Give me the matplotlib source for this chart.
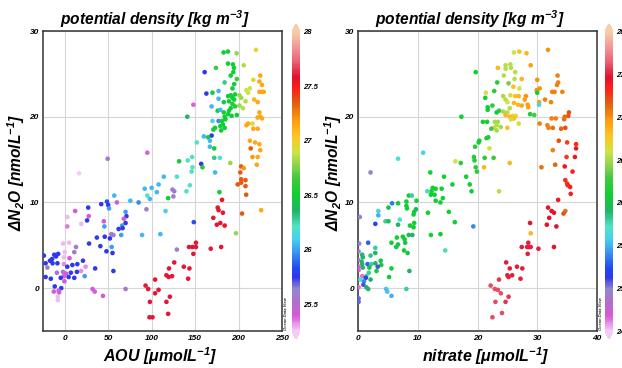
import numpy as np
import matplotlib
matplotlib.use("Agg")
import matplotlib.pyplot as plt
from matplotlib.colors import LinearSegmentedColormap, Normalize

plt.rcParams['font.family'] = ['Liberation Sans', 'DejaVu Sans']
plt.rcParams['mathtext.fontset'] = 'custom'
plt.rcParams['mathtext.rm'] = 'Liberation Sans:italic:bold'
plt.rcParams['mathtext.it'] = 'Liberation Sans:italic:bold'
plt.rcParams['mathtext.bf'] = 'Liberation Sans:italic:bold'

# ---------------- data: left panel (AOU) ----------------
aou = [182.8, 187.8, 197.8, 220, 174, 187.8, 193.5, 194.7, 194, 191, 206, 161, 198, 184, 195, 193, 177, 170, 163,
       225, 224, 227, 217, 213, 209, 211, 224, 227, 229, 188, 191, 193, 196, 201, 203, 177, 183, 189, 195, 193,
       208, 218, 222, 148, 169, 176, 179, 183, 189, 191, 196, 201, 205, 188, 184, 192, 198, 141, 170, 177, 181,
       185, 182, 179, 173, 184, 180, 171, 224, 225, 227, 222, 216, 209, 211, 217, 222, 169, 160, 165, 167, 152,
       167, 172, 213, 219, 224, 214, 225, 95, 146.6, 141.6, 131.6, 172, 178.5, 216, 222, 157, 190.5, 221, 147,
       158.5, 146, 173, 203, 206, 202, 203, 114, 129, 49.4, 16.5,
       124, 126, 125, 119, 144, 140, 178, 199, 203, 208, 208, 208.8, 181, 176, 177, 182, 171, 175, 179, 184,
       204, 226, 116, 148.5, 197, 110, 151, 147, 151, 143, 168, 180, 129, 148, 126, 120, 137, 143.5, 117,
       119.6, 123.5, 142, 104, 104, 108, 121, 117, 119, 97.5, 101, 93, 96, 98,
       92, 100, 108, 95, 98, 106, 57, 48.6, 50, 51, 42, 60, 75.5, 85, 27, 12, 27.6, 25.7, 3, 3, 19, 45, 45.6,
       70, 71, 94, 68, 70, 66, 62, 66.6, 53.6, 56, 52, 46, 37, 65, 89, 28, 41, 54, 48, 55, 13, 5, -2, 0, 11,
       -12, -7.5, -10, -14.5, -17, -24, -22, -14, -20, -8.4, -1, 3, 8.8, 14.5, 21, -1, 5.5, 35, 18.8, 24, 14,
       7, -2, -9, 1.5, -1, 4.5, 11, 23, 56, -22, -16, -4.6, -0.4, -11.5, -4, -7, -12.6, -6.5, -8, -8, 32,
       34.5, 44, 70]
dn2o_a = [27.5, 27.6, 27.4, 27.8, 25.7, 26.2, 26.1, 25.7, 25.2, 24.8, 26, 25.2, 24.4, 24, 23.8, 23.3, 23, 22.8,
          22.7, 24.8, 24.1, 23.7, 24.3, 23.3, 23.1, 22.8, 22.9, 22.9, 22.9, 22.4, 22.5, 22.2, 22.6, 22.5, 22.2,
          22.1, 21.7, 21.8, 22.0, 21.5, 21.8, 22, 21.7, 21.4, 21.2, 20.7, 20.8, 20.5, 20.7, 21.0, 21.2, 21.3,
          21.0, 20.3, 20.0, 20.1, 20.2, 20, 19.5, 19.5, 19.5, 19.7, 19.1, 18.9, 18.7, 18.7, 18.4, 18.5, 20.5,
          20.0, 19.8, 19.9, 19.2, 19.0, 19.2, 18.6, 18.6, 17.8, 17.7, 17.6, 17.2, 17.0, 16.5, 16.3, 17.2, 17.0,
          16.8, 16.3, 16.1, 15.8, 15.3, 14.9, 14.8, 15.2, 15.2, 15.3, 15.3, 14.5, 14.6, 14.4, 14.1, 14.1, 13.6,
          13.5, 14.2, 14.0, 13.5, 12.7, 13, 13, 15.1, 13.4,
          11.5, 11.3, 10.7, 10.5, 12, 11.3, 11.2, 12.1, 12.3, 12.6, 11.9, 10.9, 10.3, 9.4, 9.1, 8.8, 8.2, 7.4,
          7.6, 7.3, 8.7, 9.1, 9, 7.7, 6.4, 6.3, 5.3, 4.8, 4.8, 4.8, 4.6, 4.8, 4.5, 4, 3, 2.3, 2.5, 2.3, 1.5,
          1.3, 1.4, 1.1, 1, -0.6, -0.2, -1, -1.6, -3, -3.4, -3.4, 0.3, -0.1, -1.6,
          11.6, 11.7, 12.1, 10.8, 10.4, 11.2, 10.8, 10.1, 9.7, 9.3, 9.8, 10, 10.2, 10, 9.4, 9, 8.4, 7.9, 8.3,
          7.2, 7.5, 7.8, 7.2, 8.9, 8.4, 9.2, 8.1, 7.6, 7.3, 6.9, 7, 6.3, 6.2, 5.8, 6, 5.9, 6.2, 6.2, 5.2, 4.9,
          4.8, 4.3, 4.1, 4.8, 5.3, 5.2, 4.2, 4.2, 3.9, 4.0, 3.7, 3.4, 3.2, 3.8, 2.9, 2.9, 2.4, 2.9, 2.8, 2.5,
          2.7, 2.8, 3.2, 3.6, 3.5, 2.3, 2, 2.5, 1.9, 1.8, 1.9, 1.8, 1.7, 1.4, 1.3, 1.2, 1.4, 2, 1.3, 1.1, 1.2,
          0.8, 0.2, 0, -0.3, -0.4, -0.5, -1, -1.4, -0.1, -0.4, -0.9, -0.1]
sigma_a = [26.5, 26.5, 26.8, 26.95, 26.65, 26.5, 26.5, 26.5, 26.5, 26.5, 26.85, 25.75, 26.65, 26.3, 26.5, 26.5,
           26.05, 26.5, 25.75, 27.15, 27.15, 27.15, 26.95, 26.9, 26.9, 26.9, 27.15, 27.15, 27.15, 26.5, 26.5,
           26.5, 26.5, 26.8, 26.8, 26.05, 26.5, 26.5, 26.5, 26.55, 26.85, 27.1, 27.15, 25.38, 26.05, 26.5,
           26.05, 26.5, 26.5, 26.5, 26.55, 26.8, 26.85, 26.5, 26.5, 26.5, 26.5, 26.35, 26.1, 25.95, 26.5, 26.5,
           26.5, 26.5, 26.5, 26.5, 26.5, 26.5, 27.15, 27.15, 27.15, 27.15, 26.95, 27.15, 27.15, 27.15, 27.15,
           25.75, 26.05, 26.5, 26.05, 26.2, 26.05, 26.5, 27.15, 27.15, 27.15, 27.35, 27.15, 25.38, 26.2, 26.2,
           26.5, 26.3, 26.2, 27.2, 27.15, 25.75, 26.8, 27.15, 26.2, 26.55, 26.2, 26.05, 27.35, 27.2, 27.35,
           27.35, 26.05, 26.2, 25.58, 25.25,
           25.6, 25.58, 25.58, 26.5, 26.2, 26.2, 26.5, 27.35, 27.35, 27.35, 27.35, 27.35, 27.55, 27.6, 27.6,
           27.6, 27.6, 27.6, 27.6, 27.55, 27.35, 27.15, 26.1, 25.85, 26.8, 26.05, 27.6, 27.6, 27.6, 27.6, 27.6,
           27.6, 25.6, 27.6, 27.6, 27.6, 27.6, 27.6, 27.6, 27.6, 27.6, 27.6, 27.6, 27.6, 27.6, 27.6, 27.6, 27.6,
           27.6, 27.6, 27.6, 27.6, 27.6,
           26.05, 26.05, 26.05, 26.2, 26.05, 26.05, 26.05, 25.85, 25.75, 26.0, 25.75, 25.4, 26.05, 25.95, 25.75,
           25.4, 25.4, 25.75, 25.28, 25.35, 25.28, 25.4, 26.0, 26.0, 25.75, 25.6, 25.42, 25.75, 26.0, 25.75,
           25.75, 25.58, 25.58, 25.75, 25.75, 25.75, 26.0, 26.05, 25.75, 25.75, 26.0, 25.75, 25.75, 25.58,
           25.28, 25.28, 25.28, 25.58, 25.75, 25.75, 25.75, 25.75, 25.75, 25.75, 25.75, 25.75, 25.58, 25.75,
           25.33, 25.75, 25.75, 25.75, 25.75, 25.28, 25.4, 25.75, 25.33, 25.33, 25.75, 25.75, 25.58, 25.5, 25.4,
           25.4, 25.75, 25.75, 26.0, 25.75, 25.75, 25.75, 25.75, 25.4, 25.75, 25.75, 25.42, 25.4, 25.42, 25.28,
           25.28, 25.4, 25.4, 25.42, 25.58]

# ---------------- data: right panel (nitrate) ----------------
nitrate = [26.1, 27, 28.2, 31.8, 23.4, 24.7, 24.7, 25.5, 25.6, 28.9, 19.7, 24.4, 26.3, 23.3, 25.2, 26.2, 27.4,
           26.0, 27.0, 30.0, 30.4, 29.9, 30.0, 33.4, 33.5, 33.3, 32.5, 32.9, 34.2, 21.4, 22.8, 21.3, 24.3, 24.7,
           25.0, 25.5, 26.3, 26.9, 28.1, 27.9, 31.3, 32.3, 21.7, 21.7, 22.5, 26.1, 26.8, 27.4, 28.4, 28.5, 30.3,
           30.3, 25.4, 23.6, 23.2, 24.3, 25.0, 25.9, 26.4, 28.8, 29.5, 17.3, 20.9, 21.6, 22.9, 23.4, 24.7, 25.4,
           26.1, 25.6, 26.9, 23.2, 23.9, 22.7, 25.0, 23.2, 22.3, 35.3, 35.2, 34.6, 34.5, 33.1, 32.4, 30.4, 31.7,
           31.9, 32.6, 34.0, 34.7, 21.8, 21.5, 20.3, 20.2, 19.6, 22.0, 33.6, 35.0, 36.5, 36.5, 32.6, 19.4, 19.5,
           21.2, 22.7, 34.9, 36.3, 10.9, 6.7, 16.3, 17.2, 25.4, 33.0, 34.6, 19.7, 19.9, 21.1, 30.7, 35.9, 12.1,
           14.4, 18.1, 2.1,
           18.7, 19.0, 15.8, 12.5, 13.0, 14.0, 12.3, 11.6, 12.2, 12.8, 14.2, 13.0, 13.8, 8.5, 9.0, 8.1, 8.1, 8.2,
           9.8, 6.7, 5.7, 5.1, 3.4, 3.4, 0.3, 2.9, 4.6, 5.1, 7.0, 9.4, 9.3, 9.7, 11.7, 15.2, 16.2, 8.7, 6.7, 9.4,
           9.3, 12.2, 13.8, 8.5, 9.1, 7.5, 7.8, 6.5, 5.6, 6.7, 7.9, 6.4, 7.7, 8.3, 14.6, 1.7, 2.9, 2.9, 2.1, 0.7,
           0.8, 0.6, 0.7, 0.8, 0.2, 0.1, 0.0, 1.6, 2.2, 2.9, 3.8, 3.9, 1.9, 3.1, 3.3, 5.6, 8.6, 1.8, 1.4, 2.1,
           0.7, 1.3, 5.2, 0.4, 1.0, 0.1, 0.1, 0.9, 1.4, 1.7, 0.1, 0.1, 0.1, 4.7, 4.9, 5.6, 8.1, 19.3,
           23.6, 34.7, 35.0, 35.1, 35.5, 35.6, 33.5, 31.8, 32.4, 32.8, 34.7, 34.4, 32.0, 31.6, 33.2, 28.8, 28.9,
           28.5, 28.6, 28.3, 28.9, 27.4, 30.2, 32.8, 28.4, 24.8, 25.4, 26.6, 27.5, 25.0, 25.2, 25.8, 27.2, 23.6,
           22.2, 22.9, 23.4, 23.9, 25.2, 24.7, 23.0, 24.1, 22.5]
dn2o_b = [27.5, 27.6, 27.4, 27.8, 25.7, 26.0, 25.6, 26.1, 25.7, 26.0, 25.2, 24.8, 25.2, 24.0, 23.9, 24.4, 24.4,
          23.5, 23.3, 24.3, 23.3, 23.1, 22.8, 24.8, 24.0, 23.7, 22.9, 22.9, 22.9, 22.8, 23.0, 22.2, 22.4, 22.0,
          21.7, 22.5, 22.4, 22.4, 22.4, 22.0, 22.0, 21.7, 21.1, 20.8, 21.3, 21.6, 21.4, 21.3, 21.4, 21.1, 21.7,
          21.4, 21.0, 20.7, 20.5, 20.6, 20.5, 20.1, 20.1, 20.3, 20.2, 20.0, 19.4, 19.4, 19.4, 19.4, 20.2, 20.0,
          19.8, 19.7, 19.2, 19.0, 18.8, 18.7, 18.7, 18.4, 18.6, 20.5, 20.1, 20.0, 19.7, 19.8, 19.8, 19.2, 19.0,
          18.7, 18.7, 18.6, 18.7, 17.6, 17.5, 17.2, 17.0, 16.5, 16.3, 17.2, 17.0, 16.8, 16.3, 16.1, 15.3, 14.9,
          15.2, 15.2, 15.3, 15.3, 15.8, 15.1, 14.8, 14.6, 14.6, 14.4, 14.2, 14.1, 13.6, 14.1, 14.1, 13.6, 13.5,
          13.0, 13.0, 13.5,
          12.1, 11.3, 12.1, 11.7, 11.6, 11.6, 11.3, 11.3, 10.9, 10.9, 10.5, 10.2, 10.0, 10.8, 10.8, 10.1, 9.6,
          9.3, 10.2, 9.9, 9.9, 9.4, 9.0, 8.5, 8.3, 7.5, 7.8, 7.8, 8.0, 8.9, 8.6, 9.2, 8.8, 8.9, 7.7, 7.3, 7.4,
          7.6, 7.1, 6.2, 6.3, 6.2, 6.2, 6.0, 5.7, 5.9, 5.3, 5.1, 5.3, 4.8, 4.4, 4.1, 4.4, 5.3, 4.7, 4.1, 3.8,
          3.9, 3.6, 3.1, 2.8, 2.4, 5.2, 4.3, 3.3, 2.8, 2.8, 2.9, 3.2, 2.7, 2.4, 2.0, 2.5, 2.3, 2.0, 1.8, 1.4,
          1.0, 1.4, 1.2, 1.3, 1.0, 0.8, 2.5, 2.1, 0.4, 0.1, -0.1, 0.1, -1.2, -1.6, -0.1, -0.4, -0.9, -0.1, 7.2,
          11.3, 12.6, 12.2, 12.0, 11.8, 11.0, 10.3, 9.4, 9.0, 8.8, 9.0, 8.7, 8.2, 7.4, 7.2, 7.6, 6.4, 5.3, 4.8,
          4.8, 4.8, 4.8, 4.6, 4.8, 4.0, 3.0, 2.3, 2.5, 2.3, 1.5, 1.3, 1.5, 1.1, 1.0, 0.3, -0.1, -0.2, -0.6, -1.0,
          -1.6, -1.6, -2.9, -3.4]
sigma_b = [26.6, 26.8, 26.85, 27.0, 26.85, 26.55, 26.55, 26.55, 26.55, 26.95, 26.1, 26.55, 26.55, 26.2, 26.4,
           26.55, 26.85, 26.8, 26.6, 27.0, 27.0, 27.0, 26.1, 27.05, 27.05, 27.05, 27.05, 27.05, 27.05, 26.6,
           26.2, 26.1, 26.5, 26.55, 26.6, 26.65, 26.8, 26.85, 27.0, 26.95, 27.05, 27.05, 26.1, 26.1, 26.2, 26.85,
           26.85, 26.9, 26.95, 26.95, 26.95, 25.6, 26.55, 26.2, 26.1, 26.5, 26.55, 26.65, 26.65, 26.15, 26.3,
           26.1, 26.1, 26.1, 26.5, 26.5, 26.85, 26.85, 26.8, 26.65, 26.65, 26.55, 26.5, 26.55, 26.8, 26.5, 26.3,
           27.2, 27.2, 27.1, 27.1, 27.05, 27.05, 27.05, 27.05, 27.05, 27.1, 27.15, 27.2, 26.1, 26.15, 26.1, 26.1,
           26.2, 26.6, 27.2, 27.25, 27.3, 27.4, 27.05, 26.15, 26.15, 26.2, 26.25, 27.25, 27.4, 25.6, 25.7, 26.6,
           26.2, 26.85, 27.15, 27.4, 26.2, 26.2, 26.85, 27.1, 27.35, 26.1, 26.1, 26.1, 25.0,
           26.1, 26.1, 26.1, 26.1, 26.1, 26.1, 26.1, 25.75, 26.1, 26.1, 26.1, 26.1, 26.1, 26.1, 25.8, 26.1, 26.1,
           26.1, 26.1, 26.1, 25.35, 26.0, 25.6, 25.5, 24.95, 25.2, 25.8, 26.0, 25.7, 26.1, 26.1, 25.9, 26.1,
           26.1, 26.1, 26.1, 25.9, 26.1, 26.1, 26.1, 26.1, 25.9, 25.9, 26.05, 26.1, 26.1, 26.1, 26.0, 26.0, 26.0,
           26.1, 26.0, 25.75, 25.3, 25.8, 25.9, 25.85, 25.9, 25.9, 25.9, 25.9, 25.9, 24.95, 24.95, 24.9, 25.3,
           25.8, 25.9, 26.0, 26.05, 26.0, 26.1, 25.1, 26.1, 25.9, 25.8, 25.8, 25.9, 24.65, 25.2, 26.1, 25.7,
           25.4, 24.7, 24.7, 25.1, 25.9, 25.9, 24.65, 25.05, 25.05, 25.55, 25.55, 25.5, 25.8, 25.4,
           26.55, 27.3, 27.3, 27.3, 27.35, 27.35, 27.4, 27.45, 27.45, 27.45, 27.1, 27.2, 27.45, 27.45, 27.45,
           27.45, 26.85, 27.5, 27.5, 27.5, 27.5, 27.5, 27.5, 27.45, 27.5, 27.5, 27.5, 27.5, 27.5, 27.5, 27.5,
           27.5, 27.5, 27.55, 27.6, 27.6, 27.6, 27.6, 27.55, 27.55, 27.6, 27.6, 27.6]

left_xticks = [0, 50, 100, 150, 200, 250]
right_xticks = [0, 10, 20, 30, 40]
yticks = [0, 10, 20, 30]
left_cticks = [25.5, 26, 26.5, 27, 27.5, 28]
right_cticks = [24.5, 25, 25.5, 26, 26.5, 27, 27.5, 28]

# ODV-like colour map
stops = [(0.00, '#f4ccf4'), (0.05, '#d858d8'), (0.10, '#b070c8'), (0.14, '#9088d0'), (0.18, '#3038ea'),
         (0.21, '#2048f0'), (0.26, '#3a90f0'), (0.31, '#48d0f0'), (0.35, '#50e4c4'), (0.40, '#20b468'),
         (0.46, '#10d030'), (0.51, '#40c840'), (0.555, '#8ed450'), (0.60, '#cce444'), (0.65, '#ffc424'),
         (0.70, '#ffa010'), (0.76, '#e06010'), (0.81, '#ff2018'), (0.85, '#e0102e'), (0.90, '#e86078'),
         (0.95, '#f09898'), (1.00, '#f8cca8')]
cmap = LinearSegmentedColormap.from_list('odv', stops)

W, H = 622, 368
fig = plt.figure(figsize=(W / 100, H / 100), dpi=100)

def fx(px):
    return px / W

def fy(py):
    return 1 - py / H

ax_top, ax_bot = 31, 331

panels = [
    dict(x=aou, y=dn2o_a, c=sigma_a, left=43, right=282, xlim=(-25, 250), xticks=left_xticks,
         vmin=25.25, vmax=28.0, cticks=left_cticks, cbx=292, xlabel=r'AOU [μmolL$^{-1}$]', ylx=16,
         xlab_dx=-2),
    dict(x=nitrate, y=dn2o_b, c=sigma_b, left=358, right=597, xlim=(0, 40), xticks=right_xticks,
         vmin=24.5, vmax=28.0, cticks=right_cticks, cbx=605, xlabel=r'nitrate [μmolL$^{-1}$]', ylx=333,
         xlab_dx=8),
]

for p in panels:
    ax = fig.add_axes([fx(p['left']), fy(ax_bot), fx(p['right'] - p['left']), (ax_bot - ax_top) / H])
    norm = Normalize(vmin=p['vmin'], vmax=p['vmax'])
    sc = ax.scatter(p['x'], p['y'], c=p['c'], cmap=cmap, norm=norm, s=11, linewidths=0, zorder=3)
    ax.set_xlim(*p['xlim'])
    ax.set_ylim(-5, 30)
    ax.set_xticks(p['xticks'])
    ax.set_yticks(yticks)
    ax.grid(True, color='#d6d6d6', linewidth=0.8, zorder=0)
    ax.set_axisbelow(True)
    ax.tick_params(length=0, pad=3, labelsize=6)
    for lab in ax.get_xticklabels() + ax.get_yticklabels():
        lab.set_fontweight('bold')
        lab.set_fontstyle('italic')
    for s in ax.spines.values():
        s.set_color('#333333')
        s.set_linewidth(1.1)
    # colour bar
    cax = fig.add_axes([fx(p['cbx']), fy(339), fx(8), 315 / H])
    cb = fig.colorbar(sc, cax=cax, extend='both', extendfrac=0.025, ticks=p['cticks'])
    cb.outline.set_visible(False)
    cax.tick_params(length=0, pad=2, labelsize=5.5)
    cax.set_yticklabels([('%g' % t) for t in p['cticks']], fontweight='bold', fontstyle='italic')
    # titles and labels
    cx = (p['left'] + p['right']) / 2
    fig.text(fx(cx - 8), fy(19), r'potential density [kg m$^{-3}$]', ha='center', va='center',
             fontsize=11.2, fontweight='bold', fontstyle='italic')
    fig.text(fx(cx + p['xlab_dx']), fy(356), p['xlabel'], ha='center', va='center',
             fontsize=11.5, fontweight='bold', fontstyle='italic')
    fig.text(fx(p['ylx']), fy(172), r'$\Delta$N$_2$O [nmolL$^{-1}$]', ha='center', va='center',
             rotation=90, fontsize=11.2, fontweight='bold', fontstyle='italic')
    fig.text(fx(p['right'] + 4), fy(330), 'Ocean Data View', rotation=90, ha='center', va='bottom',
             fontsize=3, fontstyle='italic', fontweight='bold', color='#333333')

fig.savefig('out.png', dpi=100)
